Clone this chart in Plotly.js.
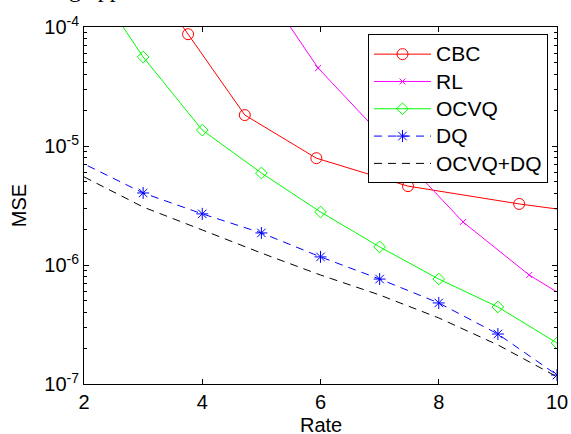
<!DOCTYPE html>
<html>
<head>
<meta charset="utf-8">
<script src="https://cdn.plot.ly/plotly-3.0.1.min.js"></script>
<style>html,body{margin:0;padding:0;background:#fff;}#chart{width:571px;height:434px;}</style>
</head>
<body>
<div id="chart"></div>
<script>
// Data (points outside the axis range are clipped)
var cbcRate = [3.5, 3.76, 4.72, 5.93, 7.48, 9.36, 11.6];
var cbcMSE  = [1.33e-4, 8.7e-5, 1.82e-5, 7.9e-6, 4.6e-6, 3.26e-6, 2.31e-6];

var rlRate = [5.2, 5.96, 7.2, 8.41, 9.53, 10.6];
var rlMSE  = [1.63e-4, 4.52e-5, 1.0e-5, 2.3e-6, 8.24e-7, 3.9e-7];

var ocvqRate = [2, 3, 4, 5, 6, 7, 8, 9, 10];
var ocvqMSE  = [3.1e-4, 5.6e-5, 1.36e-5, 5.93e-6, 2.79e-6, 1.42e-6, 7.62e-7, 4.44e-7, 2.21e-7];

var dqRate = [1, 3, 4, 5, 6, 7, 8, 9, 10];
var dqMSE  = [1.24e-5, 4.03e-6, 2.69e-6, 1.86e-6, 1.17e-6, 7.62e-7, 4.8e-7, 2.63e-7, 1.19e-7];

var bothRate = [2, 3, 4, 5, 6, 7, 8, 9, 10];
var bothMSE  = [5.5e-6, 3.07e-6, 1.97e-6, 1.26e-6, 8.24e-7, 5.6e-7, 3.59e-7, 2.13e-7, 1.15e-7];

var seriesNames = ['CBC', 'RL', 'OCVQ', 'DQ', 'OCVQ+DQ'];

var xTicks = [2, 4, 6, 8, 10];
var yTicks = [1e-7, 1e-6, 1e-5, 1e-4];
var yTickText = ['10<sup>-7</sup>', '10<sup>-6</sup>', '10<sup>-5</sup>', '10<sup>-4</sup>'];

var FONT = 'Liberation Sans, Arial, Helvetica, sans-serif';
function legName(s) { return '<span style="font-size:21px">' + s + '</span>'; }

var traces = [
  {x: cbcRate, y: cbcMSE, name: legName(seriesNames[0]), mode: 'lines+markers',
   line: {color: '#ff0000', width: 1},
   marker: {symbol: 'circle-open', size: 11, color: '#ff0000', line: {width: 1, color: '#ff0000'}}},
  {x: rlRate, y: rlMSE, name: legName(seriesNames[1]), mode: 'lines+markers',
   line: {color: '#ff00ff', width: 1},
   marker: {symbol: 'x-thin-open', size: 6, color: '#ff00ff', line: {width: 1, color: '#ff00ff'}}},
  {x: ocvqRate, y: ocvqMSE, name: legName(seriesNames[2]), mode: 'lines+markers',
   line: {color: '#00ff00', width: 1},
   marker: {symbol: 'diamond-open', size: 9, color: '#00ff00', line: {width: 1, color: '#00ff00'}}},
  {x: dqRate, y: dqMSE, name: legName(seriesNames[3]), mode: 'lines+markers',
   line: {color: '#0000ff', width: 1, dash: '8px,6px'},
   marker: {symbol: 'asterisk-open', size: 10, color: '#0000ff', line: {width: 1, color: '#0000ff'}}},
  {x: bothRate, y: bothMSE, name: legName(seriesNames[4]), mode: 'lines',
   line: {color: '#000000', width: 1, dash: '8px,6px'}}
];

var layout = {
  width: 571, height: 434,
  margin: {l: 84, r: 14, t: 27, b: 50, pad: 0},
  paper_bgcolor: '#ffffff', plot_bgcolor: '#ffffff',
  font: {family: FONT, size: 20, color: '#000'},
  showlegend: true,
  xaxis: {
    range: [2, 10], tickvals: xTicks, ticktext: xTicks.map(String),
    ticks: 'inside', ticklen: 5, tickcolor: '#000', tickwidth: 1,
    showline: true, linecolor: '#000', linewidth: 1, mirror: 'ticks',
    showgrid: false, zeroline: false,
    tickfont: {family: FONT, size: 20}
  },
  yaxis: {
    type: 'log', range: [-7, -4], tickvals: yTicks, ticktext: yTickText,
    ticks: 'inside', ticklen: 5, tickcolor: '#000', tickwidth: 1,
    showline: true, linecolor: '#000', linewidth: 1, mirror: 'ticks',
    showgrid: false, zeroline: false,
    minor: {ticks: 'inside', ticklen: 3, tickcolor: '#000', tickwidth: 1, dtick: 'D1', showgrid: false},
    tickfont: {family: FONT, size: 20},
    title: {text: 'MSE', font: {family: FONT, size: 20}, standoff: 12}
  },
  legend: {
    x: 0.6004, y: 0.979, xanchor: 'left', yanchor: 'top',
    bgcolor: '#ffffff', bordercolor: '#000', borderwidth: 1,
    font: {family: FONT, size: 18.7, color: '#000'},
    itemwidth: 57, tracegroupgap: 0
  },
  annotations: [
    {text: 'existing approach.', xref: 'paper', yref: 'paper',
     x: 0.209, y: 1.065, xanchor: 'right', yanchor: 'bottom',
     showarrow: false, font: {family: 'Liberation Serif, Times New Roman, serif', size: 24, color: '#000'}},
    {text: 'Rate', xref: 'paper', yref: 'paper',
     x: 0.5, y: -0.115, xanchor: 'center', yanchor: 'middle',
     showarrow: false, font: {family: FONT, size: 20, color: '#000'}}
  ]
};

Plotly.newPlot('chart', traces, layout, {displayModeBar: false, staticPlot: true});
</script>
</body>
</html>
